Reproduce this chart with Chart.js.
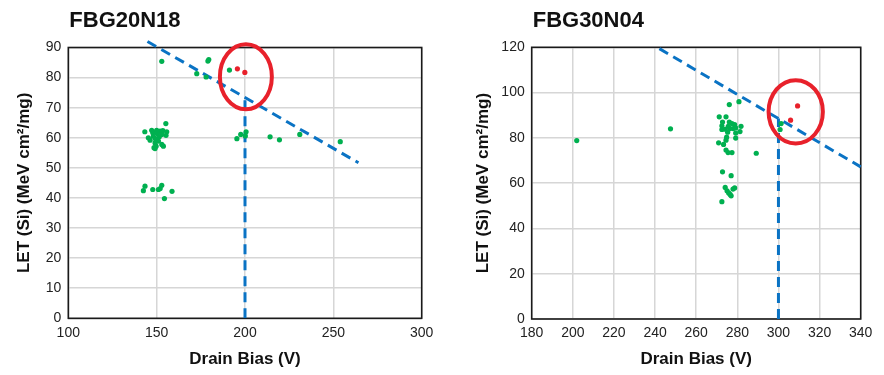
<!DOCTYPE html>
<html>
<head>
<meta charset="utf-8">
<script src="https://cdn.jsdelivr.net/npm/chart.js@4.4.1/dist/chart.umd.min.js"></script>
<style>
    html, body { margin: 0; padding: 0; background: #ffffff; }
    #wrap { position: relative; width: 884px; height: 375px; }
    canvas { position: absolute; top: 0; }
    #graficoA { left: 0; }
    #graficoB { left: 442px; }
</style>
</head>
<body>
<div id="wrap">
    <canvas id="graficoA" width="442" height="375"></canvas>
    <canvas id="graficoB" width="442" height="375"></canvas>
</div>
<script>
// FBG20N18
const titleA = "FBG20N18";
const xTicksA = [100, 150, 200, 250, 300];
const yTicksA = [0, 10, 20, 30, 40, 50, 60, 70, 80, 90];
const passA = [
    [143.3, 62], [147.2, 62.5], [155.2, 64.7], [155.7, 62], [155.3, 60.8],
    [151.9, 62.2], [148.1, 60.5], [145.3, 60], [146.3, 59.2], [149.1, 58.3],
    [151, 58.9], [152.9, 57.8], [148.5, 56.7], [149.7, 57.2], [153.8, 57.2],
    [150.4, 61.4], [147.8, 61.7], [152.9, 61.1], [149.3, 59.7], [151.5, 60.3],
    [149.1, 56.4], [150, 62.5], [153.5, 62.4],
    [142.5, 42.4], [143.4, 43.9], [147.8, 42.8], [151, 42.8], [152, 43.1],
    [152.9, 44.2], [154.4, 39.8], [158.7, 42.2],
    [152.9, 85.4], [172.7, 81.3], [178, 80.2], [179, 85.5], [179.5, 86], [191.2, 82.5],
    [195.4, 59.7], [197.6, 61.1], [200.6, 62], [200.2, 60.6],
    [214.2, 60.3], [219.5, 59.3], [231, 61.1], [253.9, 58.7]
];
const failA = [[195.7, 82.9], [199.9, 81.7]];
const limitA = [[144.8, 92], [264.2, 51.7]];
const ratedA = [[200, 0], [200, 73.4]];
const ringA = [200.5, 80.3, 14.7, 10.8];

// FBG30N04
const titleB = "FBG30N04";
const xTicksB = [180, 200, 220, 240, 260, 280, 300, 320, 340];
const yTicksB = [0, 20, 40, 60, 80, 100, 120];
const passB = [
    [201.9, 78.8], [247.5, 84], [289.2, 73.2], [280.8, 96], [276.1, 94.7],
    [301.3, 86.3], [300.8, 83.7],
    [271.2, 89.3], [274.5, 89.3], [272.8, 87], [272.5, 85.3], [272.5, 83.7],
    [274.1, 83.8], [276.1, 87], [277.4, 86.3], [278.7, 85.9], [275.6, 85.1],
    [276.4, 84.1], [278, 84.1], [279.2, 84.4], [281.8, 85.1], [281.3, 82.8],
    [279.2, 82.1], [275.3, 82.5], [274.8, 80.3], [279.2, 79.9], [274.5, 79],
    [270.9, 77.8], [273.3, 77.1], [274.5, 74.6], [275.5, 73.5], [277.4, 73.5],
    [272.8, 65], [277, 63.3], [274.1, 58.1], [278.7, 57.9], [277.9, 57.4],
    [275, 56.6], [275.8, 55.7], [276.5, 55], [277, 54.4], [272.5, 51.8]
];
const failB = [[305.9, 87.8], [309.3, 94.1]];
const limitB = [[242.1, 119.4], [340, 67.2]];
const ratedB = [[300, 0], [300, 88.5]];
const ringB = [308.4, 91.5, 13.2, 14];

const xTitle = "Drain Bias (V)";
const yTitle = "LET (Si) (MeV cm²/mg)";

const FONT = "'Liberation Sans', Arial, Helvetica, sans-serif";
const GREEN = "#00b050";
const RED = "#e8212b";
const BLUE = "#0a73c4";

function pts(list) {
    return list.map(function (p) { return { x: p[0], y: p[1] }; });
}

// frame, ring and title
const extras = {
    id: "extras",
    beforeDatasetsDraw: function (chart) {
        const a = chart.chartArea;
        const ctx = chart.ctx;
        ctx.save();
        ctx.strokeStyle = "#1a1a1a";
        ctx.lineWidth = 1.6;
        ctx.strokeRect(a.left, a.top, a.right - a.left, a.bottom - a.top);
        ctx.restore();
    },
    afterDatasetsDraw: function (chart, args, opts) {
        const ctx = chart.ctx;
        const sx = chart.scales.x;
        const sy = chart.scales.y;
        const r = opts.ring;
        const cx = sx.getPixelForValue(r[0]);
        const cy = sy.getPixelForValue(r[1]);
        const rx = Math.abs(sx.getPixelForValue(r[0] + r[2]) - cx);
        const ry = Math.abs(sy.getPixelForValue(r[1] + r[3]) - cy);
        ctx.save();
        ctx.strokeStyle = RED;
        ctx.lineWidth = 4;
        ctx.beginPath();
        ctx.ellipse(cx, cy, rx, ry, 0, 0, Math.PI * 2);
        ctx.stroke();
        ctx.fillStyle = "#111111";
        ctx.font = "bold 22px " + FONT;
        ctx.textBaseline = "alphabetic";
        ctx.fillText(opts.text, chart.chartArea.left + 1, 27);
        ctx.restore();
    }
};

function makeChart(canvas, o) {
    return new Chart(canvas, {
        type: "scatter",
        data: {
            datasets: [
                {
                    data: pts(o.fail),
                    backgroundColor: RED,
                    borderWidth: 0,
                    pointRadius: 2.6
                },
                {
                    data: pts(o.pass),
                    backgroundColor: GREEN,
                    borderWidth: 0,
                    pointRadius: 2.6
                },
                {
                    type: "line",
                    data: pts(o.limit),
                    borderColor: BLUE,
                    borderWidth: 3,
                    borderDash: [10, 6],
                    pointRadius: 0,
                    fill: false,
                    clip: false
                },
                {
                    type: "line",
                    data: pts(o.rated),
                    borderColor: BLUE,
                    borderWidth: 3,
                    borderDash: [10, 6],
                    pointRadius: 0,
                    fill: false
                }
            ]
        },
        options: {
            responsive: false,
            animation: false,
            layout: {
                padding: { top: o.top, right: o.right, bottom: 0, left: 0 }
            },
            plugins: {
                legend: { display: false },
                tooltip: { enabled: false },
                extras: { ring: o.ring, text: o.title }
            },
            scales: {
                x: {
                    type: "linear",
                    min: o.xTicks[0],
                    max: o.xTicks[o.xTicks.length - 1],
                    afterBuildTicks: function (s) {
                        s.ticks = o.xTicks.map(function (v) { return { value: v }; });
                    },
                    afterFit: function (s) { s.height = o.xh; },
                    border: { display: false },
                    grid: { color: "#d6d6d6", lineWidth: 1.5, drawTicks: false },
                    ticks: {
                        padding: 6,
                        color: "#222222",
                        maxRotation: 0,
                        font: { family: FONT, size: 14 }
                    },
                    title: {
                        display: true,
                        text: xTitle,
                        color: "#111111",
                        padding: { top: 0, bottom: 5 },
                        font: { family: FONT, size: 17, weight: "bold" }
                    }
                },
                y: {
                    type: "linear",
                    min: o.yTicks[0],
                    max: o.yTicks[o.yTicks.length - 1],
                    afterBuildTicks: function (s) {
                        s.ticks = o.yTicks.map(function (v) { return { value: v }; });
                    },
                    afterFit: function (s) { s.width = o.yw; },
                    border: { display: false },
                    grid: { color: "#d6d6d6", lineWidth: 1.5, drawTicks: false },
                    ticks: {
                        padding: 7,
                        color: "#222222",
                        font: { family: FONT, size: 14 }
                    },
                    title: {
                        display: true,
                        text: yTitle,
                        color: "#111111",
                        padding: { top: o.yPad, bottom: 0 },
                        font: { family: FONT, size: 17, weight: "bold" }
                    }
                }
            }
        },
        plugins: [extras]
    });
}

document.addEventListener("DOMContentLoaded", function () {

    makeChart(document.getElementById("graficoA"), {
        title: titleA, xTicks: xTicksA, yTicks: yTicksA,
        pass: passA, fail: failA, limit: limitA, rated: ratedA, ring: ringA,
        top: 47.5, right: 20.3, yw: 68.3, xh: 56.7, yPad: 14
    });

    makeChart(document.getElementById("graficoB"), {
        title: titleB, xTicks: xTicksB, yTicks: yTicksB,
        pass: passB, fail: failB, limit: limitB, rated: ratedB, ring: ringB,
        top: 47.3, right: 23.3, yw: 89.7, xh: 56, yPad: 31
    });

});
</script>
</body>
</html>
